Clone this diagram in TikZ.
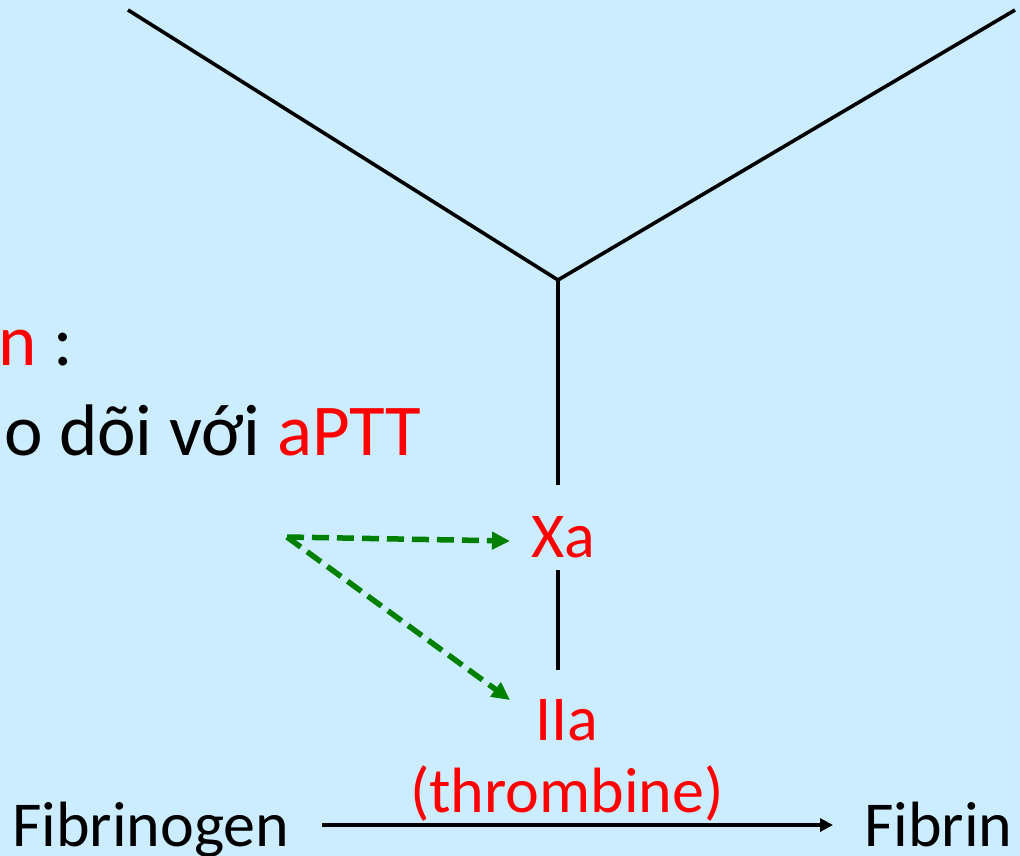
\documentclass[tikz,border=0pt]{standalone}
\usepackage{fontspec}
\setmainfont{Carlito}
\usetikzlibrary{arrows.meta}
\definecolor{bgblue}{RGB}{204,236,255}
\definecolor{gr}{RGB}{0,128,0}
\definecolor{rd}{RGB}{255,0,0}
\tikzset{
  blk/.style={line width=3.6pt,black},
  gdash/.style={line width=5.5pt,gr,dash pattern=on 17pt off 8pt,-{Triangle[length=18pt,width=17pt]}},
  bigtxt/.style={font=\fontsize{73}{80}\selectfont,inner sep=0pt},
  midtxt/.style={font=\fontsize{64}{70}\selectfont,inner sep=0pt},
}
\begin{document}
\begin{tikzpicture}[x=1pt,y=-1pt]
\fill[bgblue] (0,0) rectangle (1020,856);
\useasboundingbox (0,0) rectangle (1020,856);
% Y structure
\coordinate (tl) at (128,10);
\coordinate (tr) at (1015,10);
\coordinate (j) at (558,280);
\coordinate (vend) at (558,485);
\draw[blk] (tl) -- (j) -- (tr);
\draw[blk] (j) -- (vend);
% texts
\node[bigtxt,anchor=base west] (t1) at (-2,365) {\textcolor{rd}{n} :};
\node[bigtxt,anchor=base west] (t2) at (4,455) {o dõi với \textcolor{rd}{aPTT}};
\node[midtxt,text=rd,anchor=base] (xa) at (563,557) {Xa};
\node[midtxt,text=rd,anchor=base] (iia) at (567,740) {IIa};
\node[midtxt,text=rd,anchor=base] (thr) at (567,812) {(thrombine)};
\node[midtxt,anchor=base west] (fg) at (12,846) {Fibrinogen};
\node[midtxt,anchor=base west] (fb) at (864,846) {Fibrin};
% Xa - IIa
\coordinate (xb) at (558,570);
\coordinate (it) at (558,670);
\draw[blk] (xb) -- (it);
% green arrows
\coordinate (src) at (287,537);
\draw[gdash] (src) -- (510,541) coordinate (xtip);
\draw[gdash] (src) -- (510,700) coordinate (itip);
% bottom arrow
\coordinate (a1) at (322,825);
\coordinate (a2) at (833,825);
\draw[line width=3.6pt,-{Triangle[length=13pt,width=13pt]}] (a1) -- (a2);
\end{tikzpicture}
\end{document}
